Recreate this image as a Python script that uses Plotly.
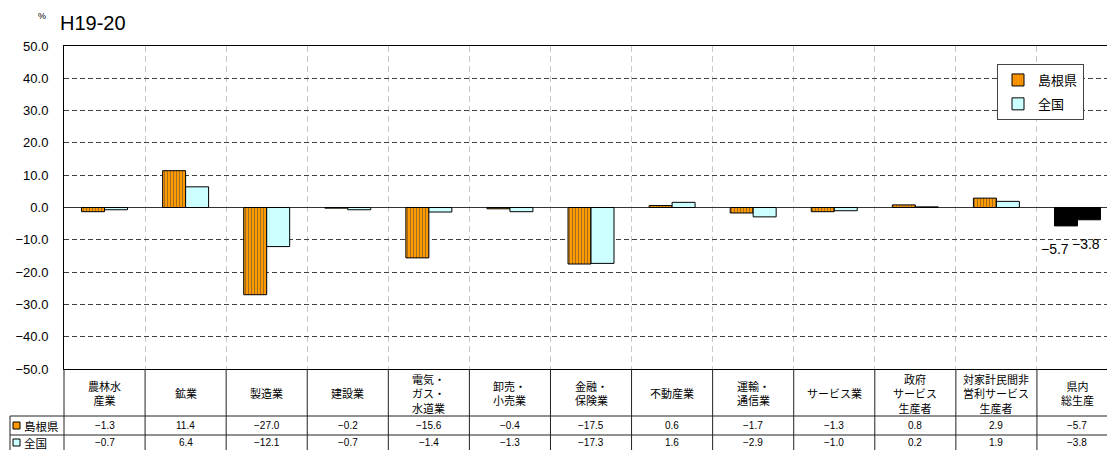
import plotly.graph_objects as go

# ---- data -------------------------------------------------------------
categories = [
    "農林水\n産業", "鉱業", "製造業", "建設業", "電気・\nガス・\n水道業",
    "卸売・\n小売業", "金融・\n保険業", "不動産業", "運輸・\n通信業",
    "サービス業", "政府\nサービス\n生産者", "対家計民間非\n営利サービス\n生産者",
    "県内\n総生産",
]
shimane = [-1.3, 11.4, -27.0, -0.2, -15.6, -0.4, -17.5, 0.6, -1.7, -1.3, 0.8, 2.9, -5.7]
zenkoku = [-0.7, 6.4, -12.1, -0.7, -1.4, -1.3, -17.3, 1.6, -2.9, -1.0, 0.2, 1.9, -3.8]
series_names = ["島根県", "全国"]
y_ticks = [50, 40, 30, 20, 10, 0, -10, -20, -30, -40, -50]
title_text = "H19-20"
unit_text = "%"

# ---- geometry ---------------------------------------------------------
W, H = 1107, 450
ML, MR, MT, MB = 64, 0, 46, 81
PW, PH = W - ML - MR, H - MT - MB
X_MIN, X_MAX = -0.5, 12.364
BARGAP = 0.433

ORANGE = "#FF9900"
ORANGE_STRIPE = "#E07000"
CYAN = "#CCFFFF"
TOTAL = "#000000"

JP_FONT = "Noto Sans CJK JP"
NUM_FONT = "Liberation Sans, Noto Sans CJK JP"


def px_to_px(px):
    return (px - ML) / PW


def py_to_py(py):
    return (H - MB - py) / PH


def fmt(v):
    return f"{v:.1f}".replace("-", "−")


n = len(categories)
last = n - 1

fig = go.Figure()

fig.add_trace(go.Bar(
    x=categories, y=shimane, name=series_names[0],
    marker=dict(
        color=[ORANGE] * last + [TOTAL],
        line=dict(color="#000000", width=1),
        pattern=dict(shape=["|"] * last + [""], fgcolor=ORANGE_STRIPE,
                     size=3, solidity=0.35, fillmode="overlay"),
    ),
    legendgroup="a",
))
fig.add_trace(go.Bar(
    x=categories, y=zenkoku, name=series_names[1],
    marker=dict(
        color=[CYAN] * last + [TOTAL],
        line=dict(color="#000000", width=1),
    ),
    legendgroup="b",
))

# value labels on the total bars
fig.add_annotation(x=last - 0.28, y=shimane[last], xref="x", yref="y",
                   text=fmt(shimane[last]), showarrow=False, yanchor="top",
                   yshift=-13, font=dict(family=NUM_FONT, size=14, color="#000"))
fig.add_annotation(x=last + 0.11, y=zenkoku[last], xref="x", yref="y",
                   text=fmt(zenkoku[last]), showarrow=False, yanchor="top",
                   yshift=-14, font=dict(family=NUM_FONT, size=14, color="#000"))

# ---- data table under the plot --------------------------------------
line_col = "#222222"
y_hdr_bottom = py_to_py(416)
y_row1_bottom = py_to_py(435)
y_fig_bottom = py_to_py(452)
x_tbl_left = px_to_px(10)

shapes = []
# column separators
for i in range(n - 1):
    shapes.append(dict(type="line", xref="x", yref="paper",
                       x0=i + 0.5, x1=i + 0.5, y0=0, y1=y_fig_bottom,
                       line=dict(color=line_col, width=1)))
# left edge of the chart columns
shapes.append(dict(type="line", xref="paper", yref="paper", x0=0, x1=0,
                   y0=0, y1=y_fig_bottom, line=dict(color=line_col, width=1)))
# left edge of the series-name column
shapes.append(dict(type="line", xref="paper", yref="paper", x0=x_tbl_left, x1=x_tbl_left,
                   y0=y_hdr_bottom, y1=y_fig_bottom, line=dict(color=line_col, width=1)))
# row separators
for yy in (y_hdr_bottom, y_row1_bottom):
    shapes.append(dict(type="line", xref="paper", yref="paper", x0=x_tbl_left, x1=1,
                       y0=yy, y1=yy, line=dict(color=line_col, width=1)))

# legend keys inside the table
row_centers = [py_to_py(425.5), py_to_py(442.5)]
key_fill = [ORANGE, CYAN]
for rc, fc in zip(row_centers, key_fill):
    shapes.append(dict(type="rect", xref="paper", yref="paper",
                       x0=px_to_px(13), x1=px_to_px(20),
                       y0=rc - 3.5 / PH, y1=rc + 3.5 / PH,
                       fillcolor=fc, line=dict(color="#000", width=1)))

annotations = []
hdr_center = py_to_py(393)
for c in categories:
    annotations.append(dict(x=c, y=hdr_center, xref="x", yref="paper",
                            text=c.replace("\n", "<br>"), showarrow=False,
                            yanchor="middle", xanchor="center",
                            font=dict(family=JP_FONT, size=11, color="#000")))
for rc, vals in zip(row_centers, (shimane, zenkoku)):
    for c, v in zip(categories, vals):
        annotations.append(dict(x=c, y=rc, xref="x", yref="paper", text=fmt(v),
                                showarrow=False, yanchor="middle", xanchor="center",
                                font=dict(family=NUM_FONT, size=10, color="#000")))
for rc, name in zip(row_centers, series_names):
    annotations.append(dict(x=px_to_px(22), y=rc, xref="paper", yref="paper",
                            text=name, showarrow=False, xanchor="left", yanchor="middle",
                            font=dict(family=JP_FONT, size=11.5, color="#000")))

# title and unit
annotations.append(dict(x=px_to_px(58), y=py_to_py(23), xref="paper", yref="paper",
                        text=title_text, showarrow=False, xanchor="left", yanchor="middle",
                        font=dict(family=NUM_FONT, size=20, color="#000")))
annotations.append(dict(x=px_to_px(42), y=py_to_py(16), xref="paper", yref="paper",
                        text=unit_text, showarrow=False, xanchor="center", yanchor="middle",
                        font=dict(family=NUM_FONT, size=9, color="#000")))

for a in annotations:
    fig.add_annotation(**a)

fig.update_layout(
    width=W, height=H,
    margin=dict(l=ML, r=MR, t=MT, b=MB, pad=0),
    paper_bgcolor="white", plot_bgcolor="white",
    barmode="group", bargap=BARGAP, bargroupgap=0,
    shapes=shapes,
    showlegend=True,
    legend=dict(
        x=px_to_px(997), y=py_to_py(64), xanchor="left", yanchor="top",
        bgcolor="white", bordercolor="#444444", borderwidth=1,
        font=dict(family=JP_FONT, size=13, color="#000"),
        tracegroupgap=4, traceorder="grouped",
    ),
    xaxis=dict(
        range=[X_MIN, X_MAX], tickson="boundaries", showticklabels=False,
        ticks="", showgrid=True, gridcolor="#C8C8C8", griddash="6px,4px", gridwidth=1,
        showline=True, linecolor="#000", linewidth=1, mirror=True,
        zeroline=False, fixedrange=True,
    ),
    yaxis=dict(
        range=[-50, 50], tickvals=y_ticks, tickformat=".1f",
        ticks="", ticklabelstandoff=12,
        tickfont=dict(family=NUM_FONT, size=13, color="#000"),
        showgrid=True, gridcolor="#404040", griddash="5px,3px", gridwidth=1,
        zeroline=True, zerolinecolor="#333333", zerolinewidth=1,
        showline=True, linecolor="#000", linewidth=1, fixedrange=True,
    ),
)

fig.write_html("out.html")
